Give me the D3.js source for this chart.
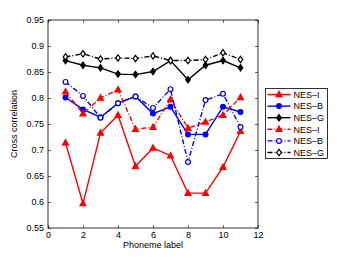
<!DOCTYPE html>
<html><head><meta charset="utf-8">
<script src="https://cdn.jsdelivr.net/npm/d3@7"></script>
<style>body{margin:0;background:#fff}svg{display:block}text{font-family:"Liberation Sans",Arial,sans-serif}</style>
</head><body><svg id="c" width="364" height="257"></svg>
<script>
const phonemes = [1,2,3,4,5,6,7,8,9,10,11];
const xTicks = [0,2,4,6,8,10,12];
const yTicks = [0.55,0.6,0.65,0.7,0.75,0.8,0.85,0.9,0.95];
const nesI_solid = [0.714,0.597,0.733,0.767,0.669,0.704,0.689,0.617,0.617,0.667,0.736];
const nesB_solid = [0.801,0.778,0.763,0.790,0.803,0.770,0.783,0.730,0.730,0.783,0.773];
const nesG_solid = [0.872,0.863,0.858,0.846,0.845,0.851,0.872,0.835,0.863,0.872,0.858];
const nesI_dash = [0.812,0.770,0.800,0.816,0.740,0.744,0.797,0.742,0.754,0.767,0.801];
const nesB_dash = [0.831,0.804,0.762,0.790,0.803,0.781,0.817,0.677,0.796,0.808,0.744];
const nesG_dash = [0.879,0.885,0.875,0.877,0.876,0.881,0.872,0.872,0.874,0.887,0.874];
const seriesNames = ["NES\u2013I","NES\u2013B","NES\u2013G","NES\u2013I","NES\u2013B","NES\u2013G"];

const series = [
  {name:seriesNames[0], values:nesI_solid, color:"#ff0000", dash:null, marker:"tri", fill:true},
  {name:seriesNames[1], values:nesB_solid, color:"#0000ff", dash:null, marker:"circ", fill:true},
  {name:seriesNames[2], values:nesG_solid, color:"#000000", dash:null, marker:"dia", fill:true},
  {name:seriesNames[3], values:nesI_dash, color:"#ff0000", dash:"5,2,1,2", marker:"tri", fill:true},
  {name:seriesNames[4], values:nesB_dash, color:"#0000ff", dash:"5,2,1,2", marker:"circ", fill:false},
  {name:seriesNames[5], values:nesG_dash, color:"#000000", dash:"5,2,1,2", marker:"dia", fill:false}
];

const svg = d3.select("#c");
const L=48, R=258, T=20, B=228;
const x = d3.scaleLinear().domain([0,12]).range([L,R]);
const y = d3.scaleLinear().domain([0.55,0.95]).range([B,T]);

svg.append("rect").attr("x",L).attr("y",T).attr("width",R-L).attr("height",B-T)
  .attr("fill","#fff").attr("stroke","#000").attr("stroke-width",0.8);

const fmt = d => d3.format("")(+d.toFixed(2));
const xb = svg.append("g").attr("transform",`translate(0,${B})`)
  .call(d3.axisBottom(x).tickValues(xTicks).tickSizeInner(-3).tickSizeOuter(0).tickPadding(4));
const xt = svg.append("g").attr("transform",`translate(0,${T})`)
  .call(d3.axisTop(x).tickValues(xTicks).tickSizeInner(-3).tickSizeOuter(0).tickFormat(""));
const yl = svg.append("g").attr("transform",`translate(${L},0)`)
  .call(d3.axisLeft(y).tickValues(yTicks).tickSizeInner(-3).tickSizeOuter(0).tickPadding(4).tickFormat(fmt));
const yr = svg.append("g").attr("transform",`translate(${R},0)`)
  .call(d3.axisRight(y).tickValues(yTicks).tickSizeInner(-3).tickSizeOuter(0).tickFormat(""));
[xb,xt,yl,yr].forEach(g=>{
  g.select(".domain").remove();
  g.selectAll("line").attr("stroke","#000").attr("stroke-width",0.6);
  g.selectAll("text").attr("font-size",9).attr("fill","#000").style("font-family","Liberation Sans, Arial, sans-serif");
});

svg.append("text").attr("x",(L+R)/2).attr("y",248).attr("text-anchor","middle")
  .attr("font-size",9).text("Phoneme label");
svg.append("text").attr("transform",`translate(17,${(T+B)/2}) rotate(-90)`).attr("text-anchor","middle")
  .attr("font-size",9).text("Cross correlation");

function marker(g, type, cx, cy, color, fill){
  let el;
  if(type==="tri"){
    el = g.append("path").attr("d",`M${cx},${cy-3.2}L${cx+3},${cy+2.2}L${cx-3},${cy+2.2}Z`);
  } else if(type==="circ"){
    el = g.append("circle").attr("cx",cx).attr("cy",cy).attr("r",2.4);
  } else {
    el = g.append("path").attr("d",`M${cx},${cy-3.2}L${cx+2.3},${cy}L${cx},${cy+3.2}L${cx-2.3},${cy}Z`);
  }
  el.attr("fill",fill?color:"#fff").attr("stroke",color).attr("stroke-width",1.2);
}

const line = d3.line().x((d,i)=>x(phonemes[i])).y(d=>y(d));
const plot = svg.append("g");
series.forEach(s=>{
  plot.append("path").datum(s.values).attr("d",line).attr("fill","none")
    .attr("stroke",s.color).attr("stroke-width",1.4).attr("stroke-dasharray",s.dash);
  s.values.forEach((v,i)=>marker(plot,s.marker,x(phonemes[i]),y(v),s.color,s.fill));
});

// legend
const lg = svg.append("g");
const lx=265.5, ly=88.5, lw=62, lh=70;
lg.append("rect").attr("x",lx).attr("y",ly).attr("width",lw).attr("height",lh)
  .attr("fill","#fff").attr("stroke","#000").attr("stroke-width",0.8);
series.forEach((s,i)=>{
  const yy = ly+6+i*11.6;
  lg.append("line").attr("x1",lx+2).attr("x2",lx+25).attr("y1",yy).attr("y2",yy)
    .attr("stroke",s.color).attr("stroke-width",1.4).attr("stroke-dasharray",s.dash);
  marker(lg,s.marker,lx+13.5,yy,s.color,s.fill);
  lg.append("text").attr("x",lx+28).attr("y",yy+3.3).attr("font-size",9).text(s.name);
});
</script></body></html>
